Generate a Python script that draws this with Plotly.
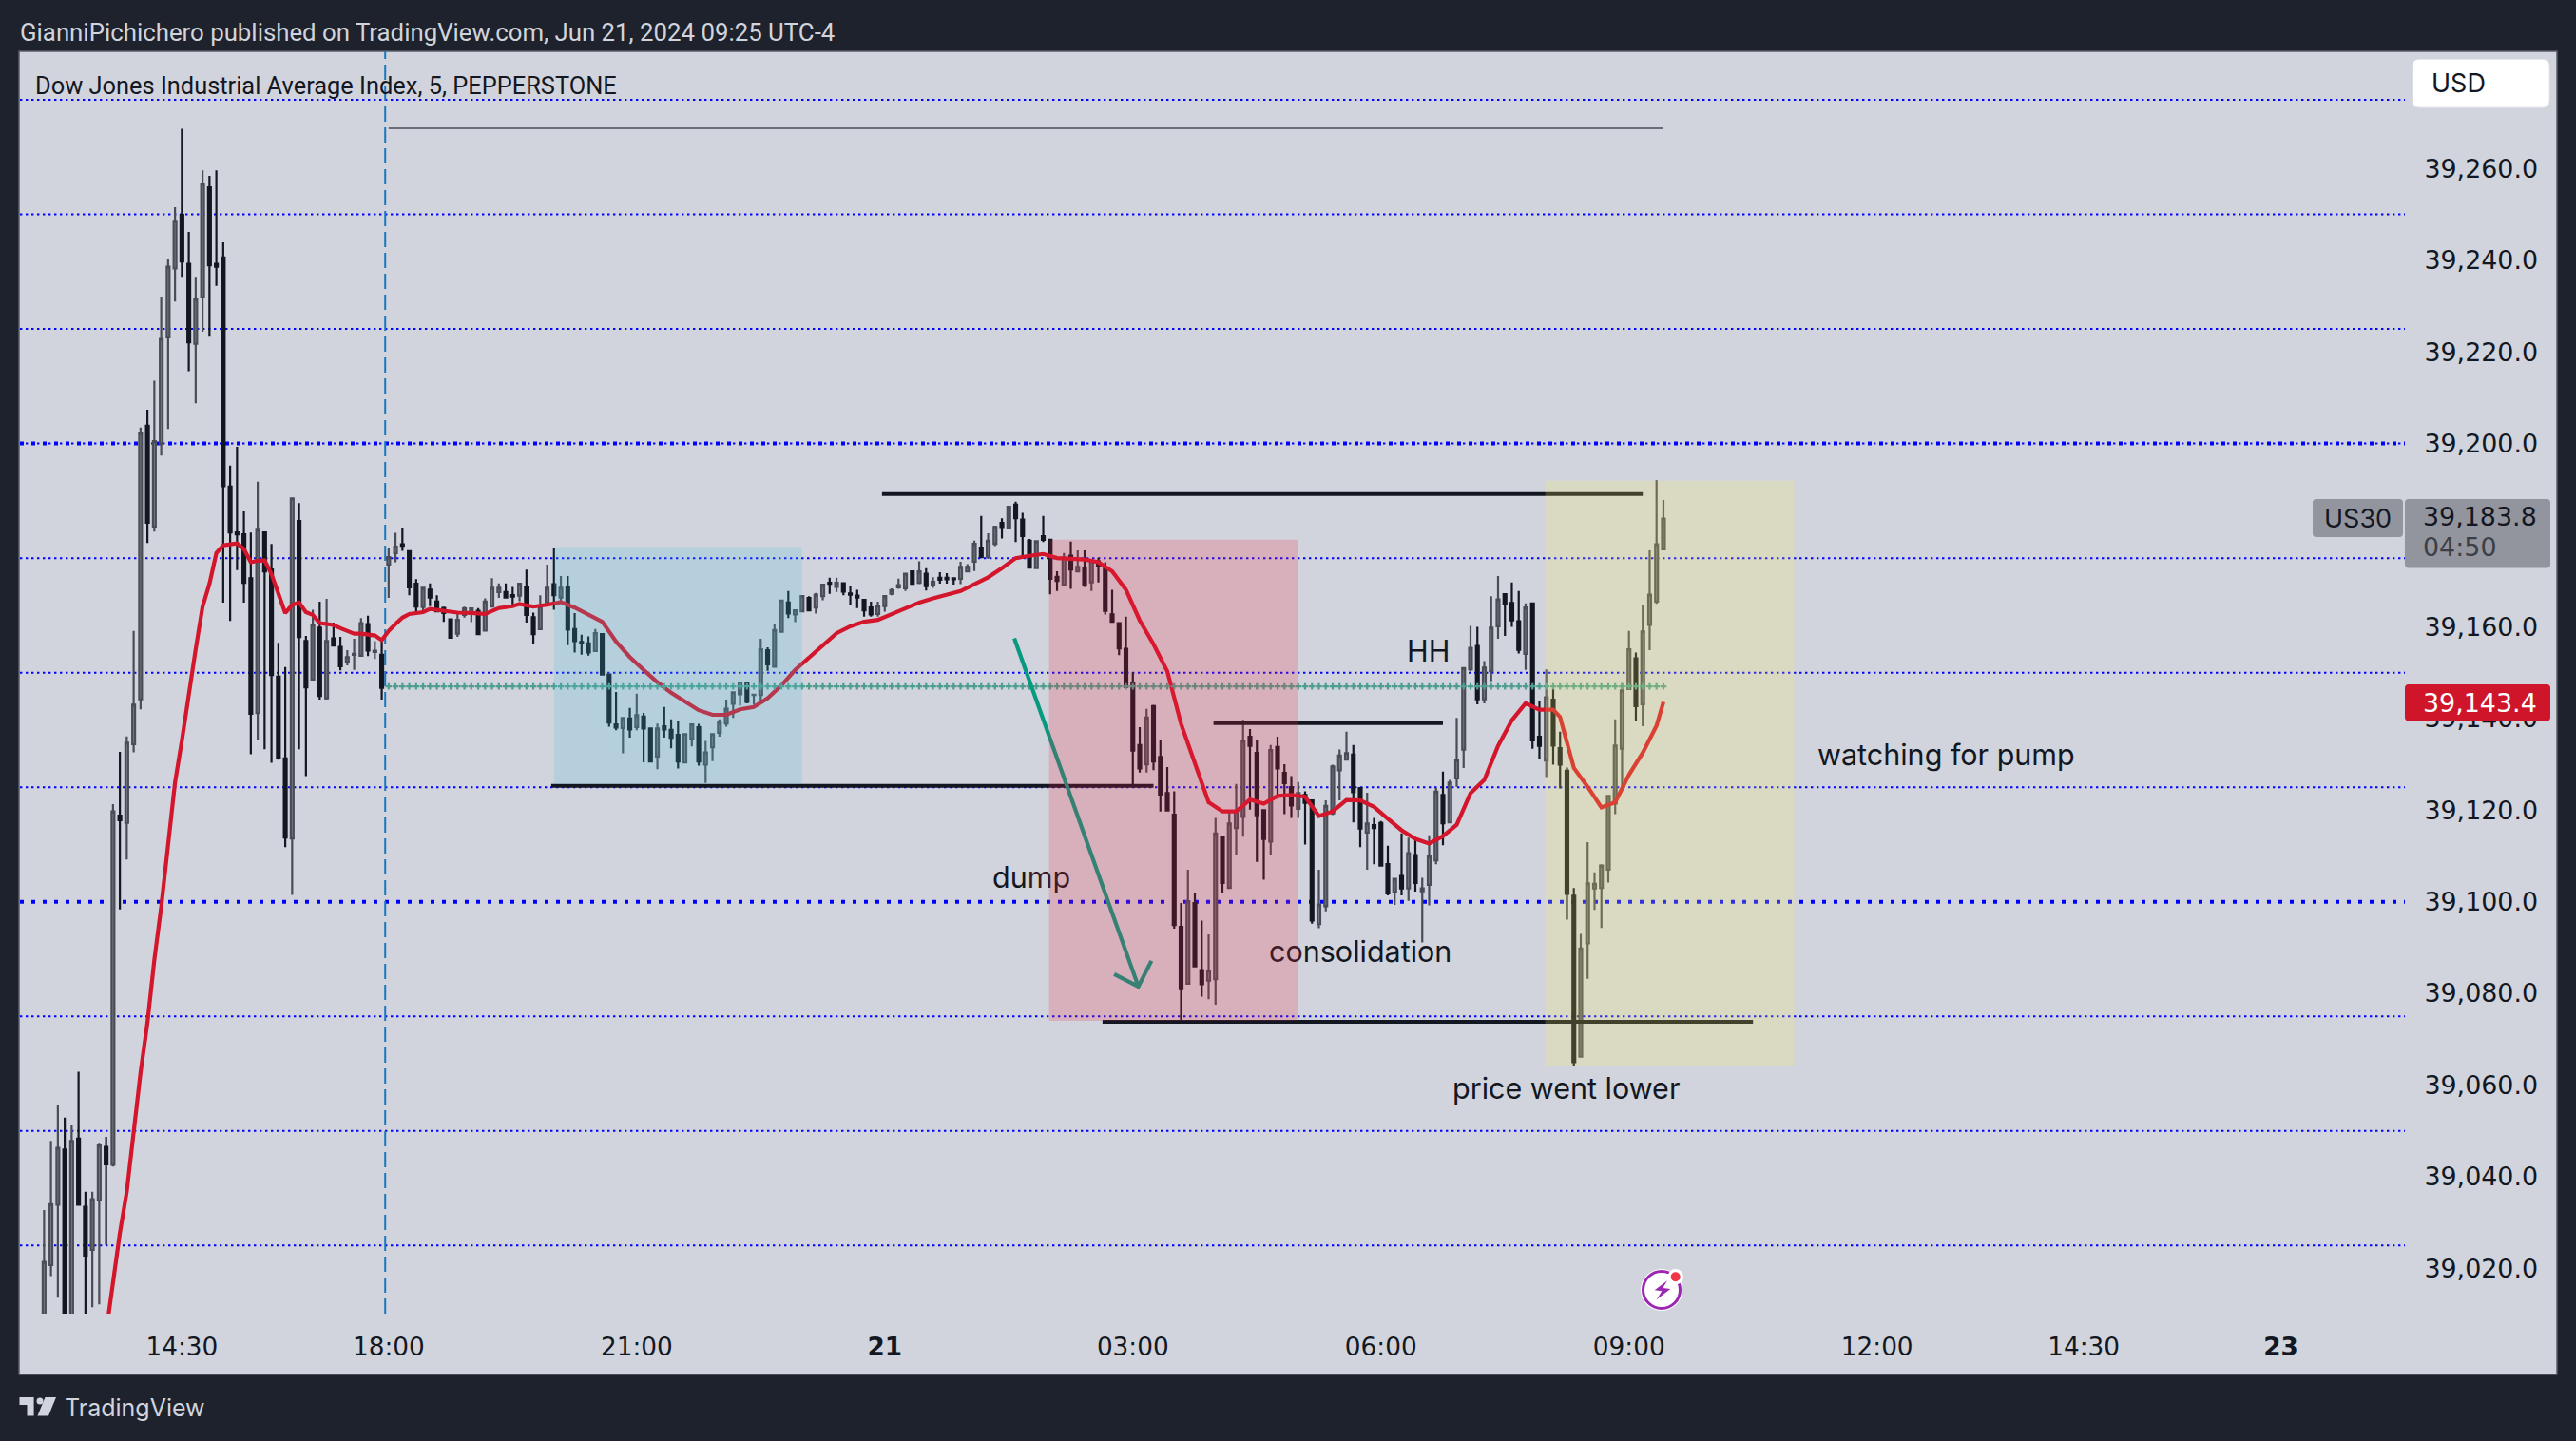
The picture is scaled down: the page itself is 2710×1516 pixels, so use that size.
import plotly.graph_objects as go

# ---------- data (bar offset 0 = 18:00 session open, 5-minute bars) ----------
first_bar = -50
opens = [
39005,39020.7,39033.9,39045.9,39005,39048.3,39033.4,39024,39034.8,39046.5,
39042.6,39118.8,39117.2,39134.4,39144.2,39203.9,39181.8,39200,39223.2,39238.2,
39249.9,39239.2,39221.8,39231.9,39255.9,39239.2,39240.6,39190.6,39180.6,39180.2,
39170.6,39141.2,39180.6,39172.5,39149.1,39131.3,39113.8,39183.1,39156.9,39148.5,
39159.8,39144.4,39157.5,39155.6,39152.4,39153.9,39153.7,39160.6,39154.5,39153.9,
39173.6,39176.1,39178,39176.5,39169.4,39164.3,39168.1,39165.5,39164.1,39161.6,
39158.5,39162.6,39163,39163.5,39159.2,39164.4,39167.6,39167.6,39166.9,39166.8,
39168.6,39162.1,39159.5,39165.3,39169.3,39166.4,39168.8,39159.5,39156.7,39156.4,
39154.7,39158.4,39149.6,39138.7,39137.9,39140,39138.1,39140.4,39137.8,39131.7,
39138.3,39137.5,39136.4,39130.4,39135.6,39138.1,39129.9,39133.7,39136.9,39138.9,
39143.2,39145.3,39147.6,39145.1,39145.1,39154.9,39151.3,39158.9,39165.3,39162.7,
39163.4,39166.3,39164.2,39166.7,39169.6,39168.7,39169.5,39167.3,39166.8,39165.9,
39164.2,39162.8,39164.5,39167.2,39168.6,39168.4,39172.1,39169.6,39171.6,39169.2,
39170.7,39170.7,39170.6,39170.5,39172.1,39174.2,39177.3,39175.3,39178.1,39182.7,
39181.5,39186.7,39183.4,39178.8,39172.8,39179.8,39179,39170.9,39169.2,39175.5,
39172.1,39172.8,39169.7,39174.3,39172.9,39162.7,39160.8,39155.2,39147.8,39134.2,
39130,39142.7,39131.6,39123.7,39119,39094.5,39082.1,39099.7,39085.1,39082.8,
39083.1,39114,39103,39116.1,39118.5,39136,39132.5,39120,39113.1,39133.8,
39128.1,39125,39120.3,39123.3,39122.1,39095.1,39099,39119.3,39128.7,39131,
39132.1,39124.8,39115.1,39116.7,39117.2,39108.2,39102.2,39105.6,39102.9,39110.2,
39102.3,39103.7,39109,39123.3,39117.3,39126.9,39133.2,39150.7,39155.8,39144.2,
39150.3,39160.1,39167.1,39165.2,39161.2,39154.1,39165.1,39136,39130.8,39144.1,
39133.5,39128.6,39101.3,39066.2,39090.9,39102.9,39103,39107,39121.4,39133.4,
39146.4,39153.1,39143.1,39160.4,39165.5,39176.9]
highs = [
39032.7,39047.8,39055.7,39052.9,39051.2,39062.9,39036.7,39036.7,39047.2,39048.7,
39121.3,39132.7,39136.1,39159.1,39203.5,39207.4,39213.7,39232.1,39240.4,39251.6,
39268.7,39246.2,39236.4,39259.6,39258.4,39259.6,39243.9,39195.2,39199.3,39185.2,
39180.6,39191.7,39180.6,39178.1,39156.5,39151.2,39188,39187,39158,39163.7,
39165.5,39166.1,39160.9,39157.8,39154.9,39157.4,39161.9,39162.4,39156.9,39156.9,
39177.3,39180.5,39181.5,39176.5,39170.4,39168.7,39169.5,39166.9,39164.4,39161.6,
39163.2,39164.4,39164.2,39164.1,39166.2,39170.6,39169.5,39169.5,39168.7,39169.6,
39172.5,39163.1,39166.9,39173.6,39177.1,39171.1,39171.1,39163,39158.3,39157.9,
39159.5,39158.6,39149.6,39145.8,39140.2,39142.3,39145.4,39141.2,39137.8,39138.9,
39142.5,39139.8,39139.4,39136.7,39138.8,39138.8,39135.1,39136.8,39139.8,39144.1,
39145.8,39147.7,39147.7,39145.4,39157.4,39155.5,39160.5,39165.8,39167.8,39163.7,
39166.9,39166.7,39167.4,39169.4,39170.7,39170.7,39169.6,39168.8,39168.1,39165.9,
39165.5,39165.5,39166.9,39168.4,39170.5,39171.7,39172.1,39174.3,39172.8,39170.8,
39171.9,39171.7,39170.7,39174.2,39173.7,39178.8,39184.2,39180.4,39182.1,39183.7,
39186.3,39187.3,39184.9,39179.2,39178.8,39184.2,39179,39172.1,39176.1,39178.6,
39176.7,39176.7,39174.7,39175.1,39174.1,39168.1,39160.8,39162.2,39150.1,39138.1,
39142.1,39143,39135.2,39129.4,39124.1,39099.7,39107,39102,39095.9,39092.9,
39118.3,39114.1,39119.9,39125.7,39139.7,39137.7,39135.2,39120.1,39134.2,39136,
39130,39127.4,39126.1,39124.1,39122.1,39107,39122.1,39129.9,39133.2,39137.1,
39134.2,39124.9,39123.8,39118.3,39117.6,39112.2,39105.1,39114.9,39114,39114.1,
39105.2,39114.5,39124.9,39128.4,39126.6,39140.1,39151.1,39160.2,39160,39152.5,
39166.7,39171.1,39167.2,39169.7,39167.8,39165.1,39165.1,39143.7,39150.7,39146.5,
39137.1,39129.3,39103,39093,39113,39106.4,39108.2,39123.2,39139.8,39147.7,
39159.1,39154.4,39164.8,39176.7,39192,39187.7]
lows = [
39000,39018.3,39013.6,39000,39000,39033.9,39009,39011.5,39012.1,39025.1,
39042.2,39098.3,39109.2,39132.6,39142,39178.3,39180.8,39197.4,39203.2,39231,
39236.4,39215.8,39208.8,39224.4,39223.3,39234.4,39165.3,39161.3,39172.4,39165.3,
39132.2,39135.2,39133.3,39130.3,39131,39111.9,39101.5,39133.3,39127.4,39148.3,
39144.1,39144.1,39155.9,39150.5,39151.6,39150.6,39153.7,39153.6,39153,39144.1,
39166.3,39174.1,39176.6,39166.9,39162.8,39162.8,39164.5,39163.4,39161.1,39157.6,
39157.8,39162,39161,39158.4,39159.2,39164.2,39166.3,39166.4,39164.7,39165.6,
39160.9,39156.3,39159.5,39165.3,39163.7,39165.7,39156,39154.4,39153.9,39153.7,
39154.7,39149.6,39138.2,39137.4,39132.4,39135.8,39137.4,39130.4,39130.6,39128.9,
39135.8,39133.5,39129.1,39130.4,39133.9,39129.7,39125.9,39130.7,39136,39138.2,
39140.1,39142.8,39143.3,39143,39143.4,39150.4,39151.3,39158.9,39161.9,39161,
39163.4,39163.6,39162.9,39165.8,39167.2,39167.6,39166.9,39164.8,39164.1,39162.2,
39162.2,39162.2,39163.3,39166.9,39168.3,39167.8,39169.4,39169.3,39167.9,39168.5,
39169.4,39169.4,39169.2,39169.3,39171.9,39172.2,39175,39174.8,39177.6,39179.3,
39181.5,39178.5,39175.5,39172.9,39172.8,39178.5,39167.1,39167.8,39169.2,39168.3,
39172.1,39168.7,39167.8,39169.7,39162.7,39161.1,39153.8,39146.9,39125.5,39128.2,
39128.2,39128.7,39119.7,39119.9,39094.1,39074,39082.1,39085.9,39079.3,39078.7,
39077.5,39101.8,39103,39110.3,39114.2,39120.1,39108.7,39104.8,39110.3,39122.5,
39119.1,39118.3,39118.3,39112.5,39095.2,39094.2,39097.9,39118.9,39122.1,39130.9,
39117.3,39111.9,39107,39108.2,39107.7,39101.4,39099.3,39101.4,39100.2,39102.2,
39091.1,39099.2,39108.2,39112.3,39117.3,39125.1,39129.2,39150.3,39143.1,39143.3,
39148.1,39157.4,39158,39160,39154.2,39150.6,39133.4,39131.2,39127.2,39129.9,
39124.7,39096.1,39064.2,39066.2,39083.2,39098.2,39094.3,39104.2,39119.1,39124.3,
39146.4,39139.5,39138.3,39154.9,39165,39176.7]
closes = [
39021.4,39034,39046.3,39005,39047.8,39033.9,39022.8,39035.1,39046.8,39042.7,
39119.7,39117.8,39134.7,39143,39202.2,39182.7,39200.5,39222.8,39238.6,39248.6,
39239.7,39222.1,39231.6,39256.7,39238.9,39238.6,39190.7,39180.6,39180.2,39169.6,
39141,39181.2,39172.1,39149.5,39131.5,39114,39188,39157.8,39146.8,39160.5,
39144.9,39156.9,39155.9,39151.4,39153.4,39154.1,39160.8,39154.8,39154.8,39146.7,
39175.2,39177.5,39177.7,39168.6,39164.4,39168.5,39166.4,39163.4,39163,39157.6,
39161.5,39164,39164,39158.4,39165.5,39168.5,39168.5,39166.4,39166.6,39169.4,
39162.6,39158.4,39164.4,39168.5,39166.9,39168.5,39159.4,39156.9,39156.5,39154.4,
39158.6,39149.6,39139.1,39138,39140.1,39137.6,39140.7,39137.8,39130.6,39137.8,
39137.6,39135.8,39130.6,39136.6,39138.7,39130.6,39132.6,39136.6,39139.1,39142.1,
39145.7,39147.6,39143.6,39145.2,39155.1,39151.8,39159.3,39165.7,39162.9,39163.6,
39166.7,39163.6,39167,39169.2,39169.4,39169.6,39167.7,39167,39166.4,39163.6,
39162.7,39164.6,39166.7,39168,39169.1,39171.6,39169.4,39172.1,39168.9,39169.8,
39170.3,39170.4,39170.4,39173.1,39173.1,39178.1,39175.2,39178.8,39181.8,39181.6,
39186.2,39183.7,39179.8,39172.9,39178.7,39179,39170.5,39170,39175.1,39172.5,
39173.1,39169.2,39174.3,39173.2,39163.5,39161.1,39155.3,39146.9,39133,39129.1,
39140.2,39130.6,39123.4,39119.9,39094.9,39080.9,39100.1,39085.9,39082,39084.9,
39114.9,39104.1,39117.1,39119.9,39135.1,39134,39118.9,39113.7,39133.1,39129.1,
39125.9,39121,39123.7,39121.6,39095.9,39099.4,39120.9,39129.5,39131.9,39132.4,
39123.9,39116,39117.1,39116.1,39107.9,39101.8,39105,39102.9,39110.6,39104.1,
39102.9,39109.9,39124,39117.1,39126,39130.9,39151,39155.4,39144.2,39151.1,
39159.8,39166,39165.1,39161.4,39155,39164.2,39135.2,39134,39144.6,39134.1,
39129.9,39101.7,39065,39089.8,39104,39103.9,39107.9,39123.1,39134.1,39146.1,
39155.1,39142.7,39159,39167,39178,39183.6]

ma_bars = [-41,-40,-39,-38,-37,-36,-35,-34,-33,-32,-31,-30,-29,-28,-27,-26,-25,-24,-23,-22,-21,-20,-19,-18,-17,-16,-15,-14,-13,-12,-11,-10,-9,-8,-7,-6,-5,-4,-3,-2,-1,0,1,2,3,4,5,6,8,10,12,14,16,18,19,21,23,25,27,29,31,33,35,37,39,41,43,45,47,49,51,53,55,57,59,61,63,65,67,69,71,73,75,77,79,81,83,85,87,89,91,93,95,97,99,101,103,105,107,109,111,113,115,117,119,121,123,125,127,129,131,133,135,137,139,141,143,145,147,149,151,153,155,157,159,161,163,165,167,169,170,172,174,176,178,180,182,184,185]
ma_values = [39006,39017.3,39027.7,39036.7,39050,39062.7,39073.6,39087.3,39098.9,39112.8,39126,39135.2,39145.8,39155.1,39164.4,39169.4,39176.1,39177.8,39178,39178.2,39177,39174.1,39174.4,39174.5,39171.5,39167.1,39163,39164.8,39165.3,39163.2,39162.6,39160.8,39160.6,39160.4,39159.7,39159.1,39158.5,39158.5,39158.3,39158.1,39157.1,39159.1,39160.6,39162,39162.8,39163,39163.2,39163.9,39163.4,39163.1,39163,39162.8,39164.1,39164.5,39165,39164.4,39164.8,39165.4,39164.2,39162.6,39161.1,39156.8,39153.4,39150.6,39147.9,39145.6,39143.7,39141.8,39140.8,39140.8,39142,39142.5,39144.4,39147.2,39150.6,39153.2,39155.8,39158.6,39160.1,39161.1,39161.5,39162.7,39164,39165.3,39166.2,39167,39167.8,39169.3,39170.8,39172.8,39175,39175.5,39175.9,39175,39174.9,39174.7,39174.1,39172.1,39168.1,39161.4,39156.2,39150.3,39138.8,39130.4,39121.7,39119.7,39119.7,39122.3,39121.4,39123.1,39123.3,39122.9,39118.7,39119.7,39122.2,39122.1,39120.7,39118.1,39115.6,39113.7,39112.7,39114.3,39116.8,39123.7,39126.6,39134,39139.6,39143.3,39141.9,39141.9,39140.3,39129.2,39125.1,39120.6,39121.7,39127.7,39132.5,39138.4,39143.6]

level_prices = [39275,39250,39225,39175,39150,39125,39075,39050,39025]
bold_level_prices = [39200,39100]
price_ticks = [39020,39040,39060,39080,39100,39120,39140,39160,39200,39220,39240,39260]
time_ticks = [-30,0,36,72,108,144,180,216,246,274.6]
time_labels = ["14:30","18:00","21:00","<b>21</b>","03:00","06:00","09:00","12:00","14:30","<b>23</b>"]

green_level = 39147
green_bars = list(range(0, 186))
grey_level = 39268.8
grey_span = [0, 185]
session_line_bar = -0.5

zones = [
    ("rgba(69,197,220,0.2)", 24, 60, 39125.7, 39177.4),
    ("rgba(239,37,60,0.2)", 95.85, 132, 39074, 39179),
    ("rgba(254,242,85,0.2)", 167.85, 204, 39064.2, 39191.9),
]
trend_lines = [
    ([71.6, 182], 39189.0),
    ([23.6, 111], 39125.3),
    ([119.7, 153], 39139.0),
    ([103.6, 198], 39073.8),
]
arrow_bars = [90.8, 108.8, 105.3, 108.8, 110.7]
arrow_prices = [39157.5, 39081.5, 39084.2, 39081.5, 39087.1]

notes = [
    ("HH", 150.8, 39154.7),
    ('<span style="color:#3f1a27">co</span>nsolidation', 141, 39089.2),
    ('du<span style="color:#3f1a27">mp</span>', 93.3, 39105.4),
    ("watching for pump", 226, 39132.1),
    ("price went lower", 170.8, 39059.3),
]

# ---------- styling ----------
FRAME = "#1e222d"
PANEL = "#d1d4dc"
INK = "#131722"
FONT = "Inter"
NUM_FONT = "DejaVu Sans"
NUM_SIZE = 26.3
PRICE_SIZE = 26.9
W, H = 2710, 1516
L, R, T, B = 21, 2530, 54, 1382


def px(x):
    return (x - L) / (R - L)


def py(y):
    return (B - y) / (B - T)


def rounded(x0, y0, x1, y1, r):
    a, b, c, d = px(x0), px(x1), py(y0), py(y1)
    rx, ry = r / (R - L), r / (B - T)
    return (f"M {a+rx} {c} L {b-rx} {c} Q {b} {c} {b} {c-ry} L {b} {d+ry} Q {b} {d} {b-rx} {d} "
            f"L {a+rx} {d} Q {a} {d} {a} {d+ry} L {a} {c-ry} Q {a} {c} {a+rx} {c} Z")


def poly(points):
    return "M " + " L ".join(f"{px(x)} {py(y)}" for x, y in points) + " Z"


bars = list(range(first_bar, first_bar + len(opens)))
fig = go.Figure()

for xs, level in trend_lines:
    fig.add_trace(go.Scatter(x=xs, y=[level, level], mode="lines", line=dict(color=INK, width=4),
                             showlegend=False, hoverinfo="skip"))

fig.add_trace(go.Candlestick(
    x=bars, open=opens, high=highs, low=lows, close=closes, whiskerwidth=0,
    increasing=dict(line=dict(color="#4a4c56", width=2.2), fillcolor="#7d808a"),
    decreasing=dict(line=dict(color=INK, width=2.2), fillcolor=INK),
    showlegend=False))

fig.add_trace(go.Scatter(x=ma_bars, y=ma_values, mode="lines", line=dict(color="#d3162b", width=4.2),
                         showlegend=False, hoverinfo="skip"))
fig.add_trace(go.Scatter(x=green_bars, y=[green_level] * len(green_bars), mode="markers",
                         marker=dict(symbol="cross", size=5.5, color="#4d9e8e", line=dict(width=0)),
                         showlegend=False, hoverinfo="skip"))
fig.add_trace(go.Scatter(x=grey_span, y=[grey_level, grey_level], mode="lines",
                         line=dict(color="#6a6d78", width=2), showlegend=False, hoverinfo="skip"))
fig.add_trace(go.Scatter(x=arrow_bars, y=arrow_prices, mode="lines",
                         line=dict(color="#089981", width=4.2), showlegend=False, hoverinfo="skip"))

shapes = [
    dict(type="rect", xref="paper", yref="paper", x0=px(20), x1=px(2690), y0=py(54), y1=py(1446),
         fillcolor=PANEL, line=dict(color="#5a5d68", width=1.5), layer="below"),
]
for p in level_prices:
    shapes.append(dict(type="line", xref="paper", yref="y", x0=0, x1=1, y0=p, y1=p, layer="below",
                       line=dict(color="#0000ff", width=2, dash="2.4px,3.6px")))
shapes.append(dict(type="line", xref="paper", yref="y", x0=0, x1=1, y0=39200, y1=39200, layer="below",
                   line=dict(color="#0000ff", width=2, dash="2.4px,3.6px")))
for p in bold_level_prices:
    shapes.append(dict(type="line", xref="paper", yref="y", x0=0, x1=1, y0=p, y1=p, layer="below",
                       line=dict(color="#0000ff", width=4, dash="4px,8px")))
shapes.append(dict(type="line", xref="x", yref="paper", x0=session_line_bar, x1=session_line_bar, y0=0, y1=1,
                   layer="below", line=dict(color="#1976c0", width=2, dash="16px,6px")))
for color, b0, b1, p0, p1 in zones:
    shapes.append(dict(type="rect", xref="x", yref="y", x0=b0, x1=b1, y0=p0, y1=p1,
                       fillcolor=color, line=dict(width=0), layer="above"))
# price-scale tags
shapes += [
    dict(type="path", xref="paper", yref="paper", path=rounded(2538, 62.5, 2682, 113, 7),
         fillcolor="#ffffff", line=dict(color="#e6e8ee", width=1)),
    dict(type="path", xref="paper", yref="paper", path=rounded(2433, 525, 2528, 565, 4),
         fillcolor="#93959e", line=dict(width=0)),
    dict(type="path", xref="paper", yref="paper", path=rounded(2530, 525, 2683, 597.6, 4),
         fillcolor="#93959e", line=dict(width=0)),
    dict(type="path", xref="paper", yref="paper", path=rounded(2530, 720, 2683, 758.5, 4),
         fillcolor="#cf152a", line=dict(width=0)),
]
# footer logo
shapes += [
    dict(type="path", xref="paper", yref="paper", fillcolor=PANEL, line=dict(width=0),
         path=poly([(20.5, 1470), (35.6, 1470), (35.6, 1489.5), (28.5, 1489.5), (28.5, 1478), (20.5, 1478)])),
    dict(type="circle", xref="paper", yref="paper", x0=px(38.5), x1=px(45.5), y0=py(1477.5), y1=py(1470.5),
         fillcolor=PANEL, line=dict(width=0)),
    dict(type="path", xref="paper", yref="paper", fillcolor=PANEL, line=dict(width=0),
         path=poly([(47.5, 1470), (59, 1470), (51, 1489.5), (39.5, 1489.5)])),
]
# lightning badge
shapes += [
    dict(type="circle", xref="paper", yref="paper", x0=px(1726), x1=px(1770), y0=py(1379), y1=py(1335),
         fillcolor="#ffffff", line=dict(width=0)),
    dict(type="circle", xref="paper", yref="paper", x0=px(1728.5), x1=px(1767.5), y0=py(1376.5), y1=py(1337.5),
         fillcolor="rgba(0,0,0,0)", line=dict(color="#9c27b0", width=3)),
    dict(type="path", xref="paper", yref="paper", fillcolor="#9c27b0", line=dict(width=0),
         path=poly([(1754, 1347.3), (1740.7, 1357.3), (1748.3, 1358.3), (1742.7, 1367.3), (1757.3, 1356), (1749.3, 1355)])),
    dict(type="circle", xref="paper", yref="paper", x0=px(1754.5), x1=px(1771), y0=py(1351.5), y1=py(1335),
         fillcolor="#ffffff", line=dict(width=0)),
    dict(type="circle", xref="paper", yref="paper", x0=px(1757.7), x1=px(1767.7), y0=py(1348.3), y1=py(1338.3),
         fillcolor="#f23645", line=dict(width=0)),
]


def tag(x, y, text, size=27, color=INK, anchor="left", family=FONT):
    return dict(xref="paper", yref="paper", x=px(x), y=py(y), text=text, showarrow=False,
                xanchor=anchor, yanchor="middle", font=dict(family=family, size=size, color=color), borderpad=0)


annotations = [
    tag(20, 34, "GianniPichichero published on TradingView.com, Jun 21, 2024 09:25 UTC-4", 25.8, PANEL, family="Roboto"),
    tag(36, 90, "Dow Jones Industrial Average Index, 5, PEPPERSTONE", 25.4, INK, family="Roboto"),
    tag(2557, 88, "USD", 27),
    tag(2480, 545, "US30", 27, anchor="center"),
    tag(2548, 543, "39,183.8", PRICE_SIZE, family=NUM_FONT),
    tag(2548, 575, "04:50", PRICE_SIZE, "#3c3f48", family=NUM_FONT),
    tag(2548, 739, "39,143.4", PRICE_SIZE, "#ffffff", family=NUM_FONT),
    tag(67, 1481, "TradingView", 25, PANEL),
]
for text, b, p in notes:
    annotations.append(dict(xref="x", yref="y", x=b, y=p, text=text, showarrow=False,
                            font=dict(family=FONT, size=30.5, color=INK)))

fig.update_layout(
    width=W, height=H, autosize=False,
    margin=dict(l=L, r=W - R, t=T, b=H - B, pad=0),
    paper_bgcolor=FRAME, plot_bgcolor=PANEL,
    shapes=shapes, annotations=annotations, boxgap=0.42,
    hovermode=False, showlegend=False,
    xaxis=dict(range=[-53.5, 292.6], tickmode="array", tickvals=time_ticks, ticktext=time_labels,
               showgrid=False, zeroline=False, showline=False, ticks="outside", ticklen=11,
               tickcolor="rgba(0,0,0,0)", rangeslider=dict(visible=False),
               tickfont=dict(family=NUM_FONT, size=NUM_SIZE, color=INK), tickangle=0),
    yaxis=dict(range=[39010.1, 39285.6], side="right", tickmode="array", tickvals=price_ticks,
               ticktext=[f"{v:,.1f}" for v in price_ticks], showgrid=False, zeroline=False, showline=False,
               ticks="outside", ticklen=14, tickcolor="rgba(0,0,0,0)",
               tickfont=dict(family=NUM_FONT, size=PRICE_SIZE, color=INK)),
)

fig.write_html("out.html", config={"displayModeBar": False},
               post_script="document.body.style.margin='0';document.documentElement.style.overflow='hidden';")
